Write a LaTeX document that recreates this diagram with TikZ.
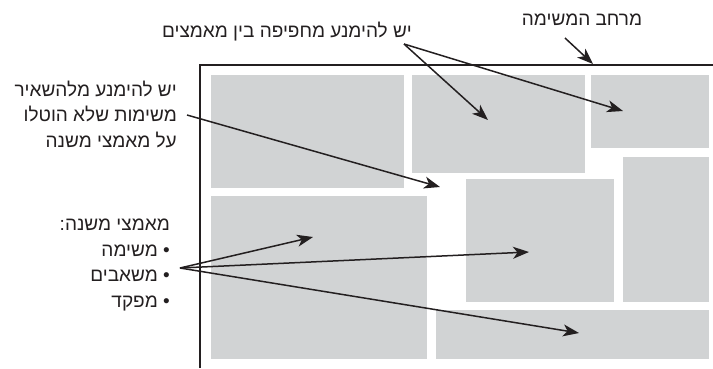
\documentclass[tikz,border=0pt]{standalone}
\usepackage{fontspec}
\setmainfont{Liberation Sans}
\newfontfamily\hebfont[Script=Hebrew]{Liberation Sans}
\TeXXeTstate=1
\usetikzlibrary{arrows.meta}
\definecolor{boxgray}{HTML}{D1D3D4}
\definecolor{ink}{HTML}{231F20}
\tikzset{
  area/.style={fill=boxgray, draw=none, inner sep=0pt, outer sep=0pt, anchor=north west},
  lbl/.style={font=\hebfont\fontsize{19}{25.5}\selectfont, text=ink, inner sep=0pt},
  ptr/.style={draw=ink, line width=1.5pt, -{Stealth[length=16pt,width=12pt,inset=4.5pt]}},
  frame/.style={draw=ink, line width=2.6pt}
}
\begin{document}
\begin{tikzpicture}[x=1pt,y=-1pt]
\useasboundingbox (0,0) rectangle (713,368);
% task space frame
\draw[frame] (200,368) -- (200,65) -- (713,65);
% areas
\node[area, minimum width=193pt, minimum height=113pt] (r1) at (211,75) {};
\node[area, minimum width=173pt, minimum height=98pt] (r2) at (412,75) {};
\node[area, minimum width=118pt, minimum height=73pt] (r3) at (591,75) {};
\node[area, minimum width=86pt, minimum height=145pt] (r4) at (623,157) {};
\node[area, minimum width=148pt, minimum height=123pt] (r5) at (466,179) {};
\node[area, minimum width=216pt, minimum height=163pt] (r6) at (211,196) {};
\node[area, minimum width=273pt, minimum height=49pt] (r7) at (436,310) {};
% labels
\node[lbl] (space) at (582,20) {\beginR מרחב המשימה\endR};
\node[lbl] (overlap) at (287,32) {\beginR יש להימנע מחפיפה בין מאמצים\endR};
\node[lbl, align=right, anchor=east] (gap) at (177,114)
  {\beginR יש להימנע מלהשאיר\endR\\\beginR משימות שלא הוטלו\endR\\\beginR על מאמצי משנה\endR};
\node[lbl, align=right, anchor=east] (sub) at (170,265)
  {\beginR מאמצי משנה:\endR\\\beginR•\ משימה\endR\\\beginR•\ משאבים\endR\\\beginR•\ מפקד\endR};
% connector end points
\coordinate (ov0) at (404,44);
\coordinate (ovA) at (488,120);
\coordinate (ovB) at (623,111);
\coordinate (sp0) at (565,38);
\coordinate (spA) at (593,64);
\coordinate (gp0) at (187,115);
\coordinate (gpA) at (440,187);
\coordinate (sb0) at (180,268);
\coordinate (sbA) at (313,237);
\coordinate (sbB) at (529,252);
\coordinate (sbC) at (579,333);
% connectors
\draw[ptr] (ov0) -- (ovA);
\draw[ptr] (ov0) -- (ovB);
\draw[ptr] (sp0) -- (spA);
\draw[ptr] (gp0) -- (gpA);
\draw[ptr] (sb0) -- (sbA);
\draw[ptr] (sb0) -- (sbB);
\draw[ptr] (sb0) -- (sbC);
\end{tikzpicture}
\end{document}
